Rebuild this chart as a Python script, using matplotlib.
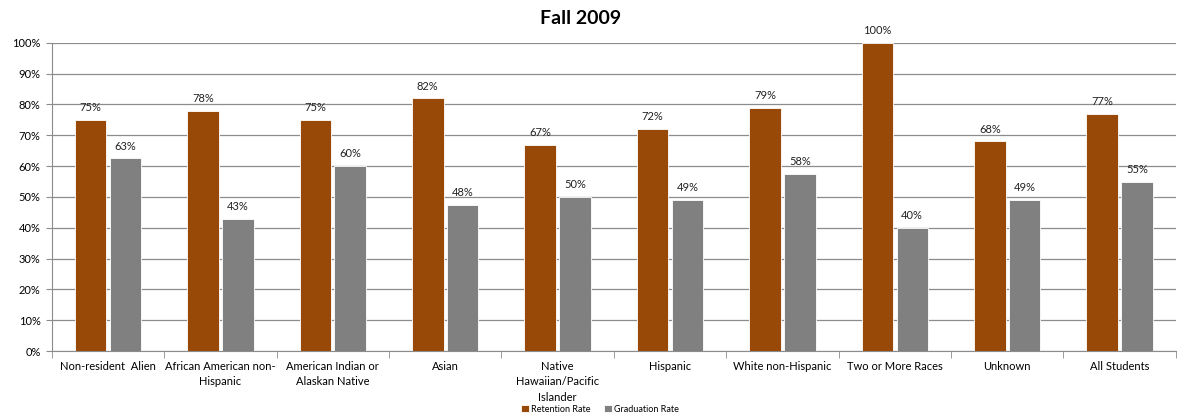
import numpy as np
import matplotlib.pyplot as plt
from matplotlib.ticker import PercentFormatter

plt.rcParams['font.family'] = ['Lato', 'DejaVu Sans']

categories = ["Non-resident  Alien", "African American non-\nHispanic",
              "American Indian or\nAlaskan Native", "Asian",
              "Native\nHawaiian/Pacific\nIslander", "Hispanic",
              "White non-Hispanic", "Two or More Races", "Unknown",
              "All Students"]
retention = [75, 78, 75, 82, 67, 72, 79, 100, 68, 77]
graduation = [62.5, 43, 60, 47.5, 50, 49, 57.5, 40, 49, 55]
series_names = ["Retention Rate", "Graduation Rate"]
colors = ["#984807", "#808080"]

fig = plt.figure(figsize=(11.77, 4.16), dpi=100)
ax = fig.add_axes([0.044, 0.156, 0.955, 0.741])

x = np.arange(len(categories))
w = 0.28
b1 = ax.bar(x - 0.155, retention, w, color=colors[0], edgecolor='white', linewidth=0.6,
            label=series_names[0], zorder=3)
b2 = ax.bar(x + 0.155, graduation, w, color=colors[1], edgecolor='white', linewidth=0.6,
            label=series_names[1], zorder=3)

for bars, vals in ((b1, retention), (b2, graduation)):
    for r, v in zip(bars, vals):
        ax.text(r.get_x() + r.get_width() / 2, v + 2.2, f"{int(v + 0.5)}%",
                ha='center', va='bottom', fontsize=8, color='#222222')

ax.set_xlim(-0.5, len(categories) - 0.5)
ax.set_ylim(0, 100)
ax.set_yticks(range(0, 101, 10))
ax.yaxis.set_major_formatter(PercentFormatter(decimals=0))
ax.grid(axis='y', color='#8c8c8c', linewidth=0.9, zorder=0)
ax.set_xticks(x)
ax.set_xticklabels(categories, fontsize=8, linespacing=1.5)
ax.set_xticks(np.arange(-0.5, len(categories)), minor=True)
ax.tick_params(axis='x', which='major', length=0, pad=7)
ax.tick_params(axis='x', which='minor', length=5, color='#8c8c8c')
ax.tick_params(axis='y', labelsize=8, length=4, color='#8c8c8c', pad=4)
for s in ['top', 'right']:
    ax.spines[s].set_visible(False)
ax.spines['left'].set_color('#8c8c8c')
ax.spines['bottom'].set_color('#8c8c8c')

fig.text(0.493, 0.955, "Fall 2009", ha='center', va='center', fontsize=14, fontweight='bold')
fig.legend(loc='center', bbox_to_anchor=(0.51, 0.016), ncol=2, fontsize=6.5, frameon=False,
           handlelength=0.8, handleheight=0.8, handletextpad=0.3, columnspacing=1.5)

fig.savefig("out.png", dpi=100)
